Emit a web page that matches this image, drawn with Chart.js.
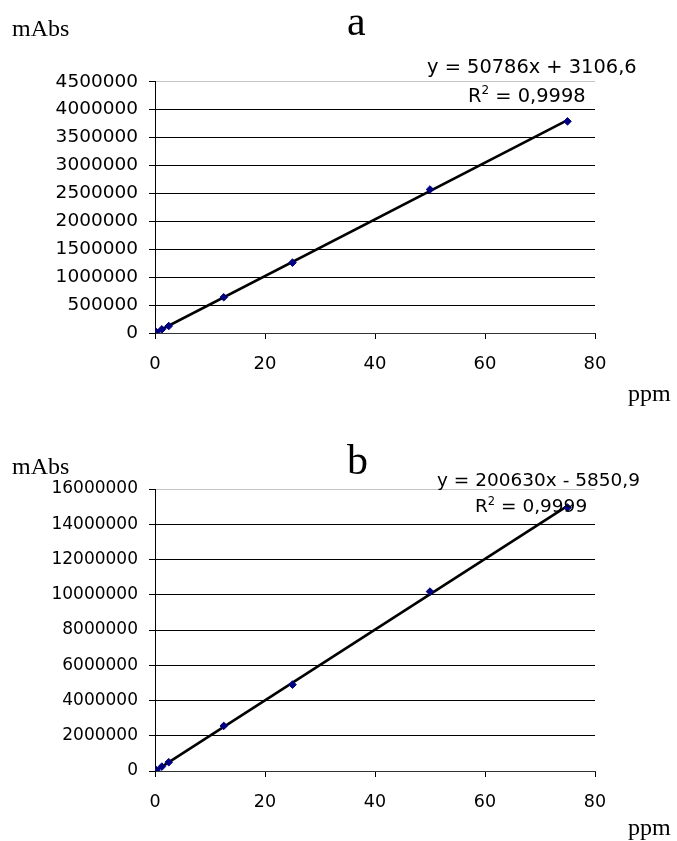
<!DOCTYPE html>
<html>
<head>
<meta charset="utf-8">
<script src="https://cdn.jsdelivr.net/npm/chart.js@4.4.1/dist/chart.umd.min.js"></script>
<style>
  html, body { margin: 0; padding: 0; background: #fff; }
  body { width: 677px; height: 841px; position: relative; overflow: hidden; }
  canvas { position: absolute; left: 0; }
  .t { position: absolute; white-space: nowrap; line-height: 1; color: #000; }
  .serif { font-family: "Liberation Serif", "DejaVu Serif", serif; }
  .sans { font-family: "DejaVu Sans", sans-serif; }
  sup { font-size: 0.62em; vertical-align: 0; position: relative; top: -0.65em; }
</style>
</head>
<body>
<canvas id="ca" width="677" height="420" style="top:0px"></canvas>
<canvas id="cb" width="677" height="421" style="top:420px"></canvas>

<div class="t serif" style="left:12px; top:16px; font-size:24px;">mAbs</div>
<div class="t serif" style="left:347px; top:0px; font-size:42px;">a</div>
<div class="t serif" style="left:628px; top:381px; font-size:24px;">ppm</div>
<div class="t sans" style="left:427px; top:57px; font-size:19.4px;">y = 50786x + 3106,6</div>
<div class="t sans" style="left:468px; top:86px; font-size:19.4px;">R<sup>2</sup> = 0,9998</div>

<div class="t serif" style="left:12px; top:454px; font-size:24px;">mAbs</div>
<div class="t serif" style="left:347px; top:439px; font-size:42px;">b</div>
<div class="t serif" style="left:628px; top:815px; font-size:24px;">ppm</div>
<div class="t sans" style="left:437px; top:471px; font-size:18.5px;">y = 200630x - 5850,9</div>
<div class="t sans" style="left:475px; top:497px; font-size:18.5px;">R<sup>2</sup> = 0,9999</div>

<script>
// ---- data ----
const concA = [0.25, 1.25, 2.5, 12.5, 25, 50, 75];
const absA  = [15000, 65000, 125000, 640000, 1260000, 2570000, 3790000];
const slopeA = 50786, interceptA = 3106.6;

const concB = [0.25, 1.25, 2.5, 12.5, 25, 50, 75];
const absB  = [50000, 250000, 500000, 2560000, 4900000, 10180000, 14950000];
const slopeB = 200630, interceptB = -5850.9;

const xTicks = [0, 20, 40, 60, 80];
const yMaxA = 4500000, yStepA = 500000;
const yMaxB = 16000000, yStepB = 2000000;
const trendRange = [0, 75];

function makeChart(id, conc, abs, slope, intercept, yMax, yStep, top, bottom, H, fy, fx) {
  const pts = conc.map((x, i) => ({ x: x, y: abs[i] }));
  const trend = trendRange.map(x => ({ x: x, y: slope * x + intercept }));
  return new Chart(document.getElementById(id), {
    type: 'scatter',
    data: {
      datasets: [
        { type: 'scatter', data: pts, pointStyle: 'rectRot', radius: 3.8, hoverRadius: 3.8,
          backgroundColor: '#000080', borderColor: '#000080', borderWidth: 1, order: 0 },
        { type: 'line', data: trend, borderColor: '#000', borderWidth: 2.6, pointRadius: 0,
          fill: false, tension: 0, order: 1 }
      ]
    },
    options: {
      responsive: false, animation: false, devicePixelRatio: 1,
      layout: { padding: { top: top, right: 82, bottom: 0, left: 0 } },
      plugins: { legend: { display: false }, tooltip: { enabled: false }, title: { display: false } },
      scales: {
        x: {
          type: 'linear', min: 0, max: 80,
          afterBuildTicks: s => { s.ticks = xTicks.map(v => ({ value: v })); },
          afterFit: s => { s.height = H - bottom; },
          grid: { display: true, drawOnChartArea: false, drawTicks: true, tickLength: 6, color: '#000', lineWidth: 1 },
          border: { display: true, color: '#333', width: 1 },
          ticks: { color: '#000', padding: 15, maxRotation: 0, font: { family: 'DejaVu Sans', size: fx } }
        },
        y: {
          type: 'linear', min: 0, max: yMax,
          ticks: { stepSize: yStep, color: '#000', padding: 11, font: { family: 'DejaVu Sans', size: fy },
                   callback: v => String(v) },
          afterFit: s => { s.width = 155; },
          grid: { drawOnChartArea: true, drawTicks: true, tickLength: 6, lineWidth: 1,
                  color: c => (c.tick && c.tick.value === yMax) ? '#c4c4c4' : '#000',
                  tickColor: '#000' },
          border: { display: true, color: '#000', width: 1 }
        }
      }
    }
  });
}

makeChart('ca', concA, absA, slopeA, interceptA, yMaxA, yStepA, 81.7, 333, 420, 18.5, 18);
makeChart('cb', concB, absB, slopeB, interceptB, yMaxB, yStepB, 69, 351, 421, 17, 17.5);
</script>
</body>
</html>
